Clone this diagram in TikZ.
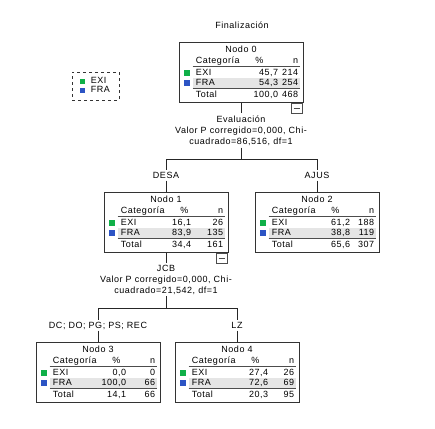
\documentclass[tikz,border=0pt]{standalone}
\usepackage{fontspec}
\setmainfont{Liberation Sans}[LetterSpace=6]
\usepackage{tikz}
\usetikzlibrary{calc}
\definecolor{exiverde}{RGB}{16,176,72}
\definecolor{fraazul}{RGB}{44,84,196}
\tikzset{
 txt/.style={font=\fontsize{9}{10}\selectfont, inner sep=1, text height=6.5, text depth=1.5},
 rotulo/.style={font=\fontsize{9}{11}\selectfont, align=center, inner sep=2},
 caja/.style={draw=black!80, line width=.8, minimum width=124, minimum height=60, inner sep=0},
 linea/.style={draw=black!85, line width=.8},
 fino/.style={draw=black!70, line width=.6},
}
\newcommand{\nodobox}[4]{%
 \node[caja, anchor=north] (#1) at (#2,#3) {};
 \fill[black!10] ([shift={(14,36)}]#1.north west) rectangle ([shift={(-3,46)}]#1.north east);
 \draw[fino] ([shift={(14,24.5)}]#1.north west) -- ([shift={(-3,24.5)}]#1.north east);
 \draw[fino] ([shift={(14,46.5)}]#1.north west) -- ([shift={(-3,46.5)}]#1.north east);
 \node[txt] (#1-tit) at ([shift={(0,8)}]#1.north) {Nodo #4};
 \node[txt, anchor=west] (#1-cat) at ([shift={(16,18.5)}]#1.north west) {Categoría};
 \node[txt] (#1-pct) at ([shift={(-44,18.5)}]#1.north east) {\%};
 \node[txt, anchor=east] (#1-n) at ([shift={(-4,18.5)}]#1.north east) {n};
 \fill[exiverde] ([shift={(5,27.5)}]#1.north west) rectangle ++(6,6);
 \fill[fraazul] ([shift={(5,38)}]#1.north west) rectangle ++(6,6);
 \node[txt, anchor=west] (#1-exi) at ([shift={(16,30.5)}]#1.north west) {EXI};
 \node[txt, anchor=west] (#1-fra) at ([shift={(16,41)}]#1.north west) {FRA};
 \node[txt, anchor=west] (#1-tot) at ([shift={(16,53)}]#1.north west) {Total};
}
\newcommand{\valores}[8]{%
 \node[txt, anchor=east] (#1-exip) at ([shift={(-#2,30.5)}]#1.north east) {#3};
 \node[txt, anchor=east] (#1-exin) at ([shift={(-4,30.5)}]#1.north east) {#4};
 \node[txt, anchor=east] (#1-frap) at ([shift={(-#2,41)}]#1.north east) {#5};
 \node[txt, anchor=east] (#1-fran) at ([shift={(-4,41)}]#1.north east) {#6};
 \node[txt, anchor=east] (#1-totp) at ([shift={(-#2,53)}]#1.north east) {#7};
 \node[txt, anchor=east] (#1-totn) at ([shift={(-4,53)}]#1.north east) {#8};
}
\newcommand{\plegar}[1]{%
 \node[fino, draw, minimum width=11, minimum height=10, inner sep=0, anchor=north east] (#1-icono) at ([shift={(-1,0)}]#1.south east) {};
 \draw[fino] ([xshift=-3]#1-icono.center) -- ([xshift=3]#1-icono.center);
}

\begin{document}
\begin{tikzpicture}[x=1pt, y=-1pt]
\useasboundingbox (0,0) rectangle (435,428);

\node[txt] (titulo) at (242,26) {Finalización};

\node[draw=black!80, dashed, line width=.7, minimum width=47, minimum height=28, inner sep=0] (leyenda) at (95.5,86) {};
\fill[exiverde] ([shift={(8,-7.5)}]leyenda.west) rectangle ++(5,5);
\fill[fraazul] ([shift={(8,1.5)}]leyenda.west) rectangle ++(5,5);
\node[txt, anchor=west] (ley-exi) at ([shift={(18,-5)}]leyenda.west) {EXI};
\node[txt, anchor=west] (ley-fra) at ([shift={(18,4)}]leyenda.west) {FRA};

\nodobox{n0}{241}{42}{0}
\valores{n0}{24}{45,7}{214}{54,3}{254}{100,0}{468}
\plegar{n0}

\nodobox{n1}{166}{192}{1}
\valores{n1}{36}{16,1}{26}{83,9}{135}{34,4}{161}
\plegar{n1}

\nodobox{n2}{317}{192}{2}
\valores{n2}{28}{61,2}{188}{38,8}{119}{65,6}{307}

\nodobox{n3}{98}{342}{3}
\valores{n3}{33}{0,0}{0}{100,0}{66}{14,1}{66}

\nodobox{n4}{237}{342}{4}
\valores{n4}{30}{27,4}{26}{72,6}{69}{20,3}{95}

\node[rotulo] (eval) at (241,130.5) {Evaluación\\Valor P corregido=0,000, Chi-\\cuadrado=86,516, df=1};
\node[txt] (desa) at (166,175.5) {DESA};
\node[txt] (ajus) at (317,175.5) {AJUS};
\node[rotulo] (jcb) at (166,279.5) {JCB\\Valor P corregido=0,000, Chi-\\cuadrado=21,542, df=1};
\node[txt] (dcrec) at (98,325.5) {DC; DO; PG; PS; REC};
\node[txt] (lz) at (237,325.5) {LZ};

\coordinate (c0) at (241,159);
\coordinate (c1) at (166,308);
\draw[linea] (n0) -- (eval);
\draw[linea] (eval) -- (c0) -| (desa);
\draw[linea] (c0) -| (ajus);
\draw[linea] (desa) -- (n1);
\draw[linea] (ajus) -- (n2);
\draw[linea] (n1) -- (jcb);
\draw[linea] (jcb) -- (c1) -| (dcrec);
\draw[linea] (c1) -| (lz);
\draw[linea] (dcrec) -- (n3);
\draw[linea] (lz) -- (n4);
\end{tikzpicture}
\end{document}
